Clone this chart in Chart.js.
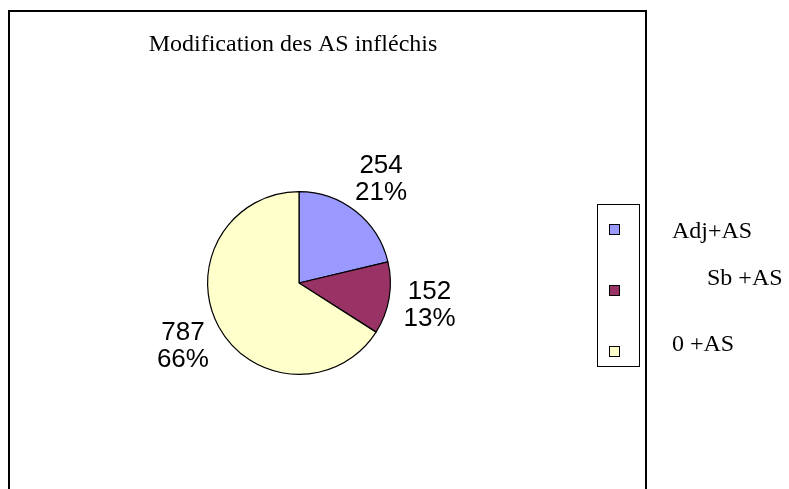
<!DOCTYPE html>
<html>
<head>
<meta charset="utf-8">
<script src="https://cdn.jsdelivr.net/npm/chart.js@4/dist/chart.umd.min.js"></script>
<style>
  html, body { margin: 0; padding: 0; background: #ffffff; }
  #wrap { width: 789px; height: 489px; position: relative; }
</style>
</head>
<body>
<div id="wrap"><canvas id="c" width="789" height="489"></canvas></div>
<script>
const chartTitle = 'Modification des AS infléchis';
const categories = ['Adj+AS', 'Sb +AS', '0 +AS'];
const values = [254, 152, 787];
const percentLabels = ['21%', '13%', '66%'];
const colors = ['#9999FF', '#993366', '#FFFFCC'];

const framePlugin = {
  id: 'frame',
  beforeDraw(chart) {
    const ctx = chart.ctx;
    ctx.save();
    ctx.fillStyle = '#ffffff';
    ctx.fillRect(0, 0, chart.width, chart.height);
    ctx.strokeStyle = '#000000';
    ctx.lineWidth = 2;
    ctx.beginPath();
    ctx.moveTo(9, chart.height + 5);
    ctx.lineTo(9, 11);
    ctx.lineTo(646, 11);
    ctx.lineTo(646, chart.height + 5);
    ctx.stroke();
    // title
    ctx.fillStyle = '#000000';
    ctx.font = '24px "Liberation Serif", "Times New Roman", serif';
    ctx.textAlign = 'center';
    ctx.textBaseline = 'alphabetic';
    ctx.fillText(chartTitle, 293, 51);
    ctx.restore();
  }
};

const labelPlugin = {
  id: 'sliceLabels',
  afterDatasetsDraw(chart) {
    const ctx = chart.ctx;
    const meta = chart.getDatasetMeta(0);
    ctx.save();
    ctx.fillStyle = '#000000';
    ctx.font = '26px "Liberation Sans", Arial, sans-serif';
    ctx.textAlign = 'center';
    ctx.textBaseline = 'middle';
    meta.data.forEach((arc, i) => {
      const p = arc.getProps(['x', 'y', 'startAngle', 'endAngle', 'outerRadius'], true);
      const mid = (p.startAngle + p.endAngle) / 2;
      const d = p.outerRadius + 41;
      const cx = p.x + Math.cos(mid) * d;
      const cy = p.y + Math.sin(mid) * d;
      ctx.fillText(String(values[i]), cx, cy - 13.5);
      ctx.fillText(percentLabels[i], cx, cy + 13.5);
    });
    ctx.restore();
  }
};

const legendPlugin = {
  id: 'customLegend',
  afterDraw(chart) {
    const ctx = chart.ctx;
    ctx.save();
    ctx.strokeStyle = '#000000';
    ctx.lineWidth = 1;
    ctx.strokeRect(597.5, 204.5, 42, 162);
    const sqY = [230, 291, 352];
    const txt = [[672, 238], [707, 285], [672, 351]];
    ctx.font = '24px "Liberation Serif", "Times New Roman", serif';
    ctx.textAlign = 'left';
    ctx.textBaseline = 'alphabetic';
    categories.forEach((name, i) => {
      ctx.fillStyle = colors[i];
      ctx.fillRect(609.5, sqY[i] - 5.5, 10, 10);
      ctx.strokeStyle = '#000000';
      ctx.strokeRect(609.5, sqY[i] - 5.5, 10, 10);
      ctx.fillStyle = '#000000';
      ctx.fillText(name, txt[i][0], txt[i][1]);
    });
    ctx.restore();
  }
};

new Chart(document.getElementById('c'), {
  type: 'pie',
  data: {
    labels: categories,
    datasets: [{
      data: values,
      backgroundColor: colors,
      borderColor: '#000000',
      borderWidth: 1.2
    }]
  },
  options: {
    responsive: false,
    animation: false,
    devicePixelRatio: 1,
    layout: { padding: { left: 207, right: 398, top: 191, bottom: 114 } },
    plugins: {
      legend: { display: false },
      title: { display: false },
      tooltip: { enabled: false }
    }
  },
  plugins: [framePlugin, labelPlugin, legendPlugin]
});
</script>
</body>
</html>
